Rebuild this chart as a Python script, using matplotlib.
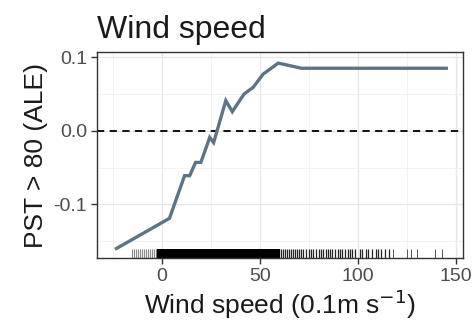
import matplotlib
matplotlib.use("Agg")
import matplotlib.pyplot as plt

plt.rcParams['font.family'] = ['Liberation Sans', 'DejaVu Sans']

# ALE curve
wind = [-23, 4, 11.7, 14.3, 17.3, 20, 24.5, 26.5, 32.7, 36, 42, 46.6, 51.7, 59.4, 71.3, 145]
ale = [-0.160, -0.119, -0.061, -0.061, -0.043, -0.043, -0.009, -0.016, 0.041, 0.026,
       0.050, 0.059, 0.077, 0.092, 0.085, 0.085]

# rug of observed wind speeds
rug_light = [-15, -14, -13, -12, -11, -10, -9, -8, -7, -6, -5, -4, -3]
rug_dense = [-2, -1, 0, 1, 2, 3, 4, 5, 6, 7, 8, 9, 10, 11, 12, 13, 14, 15, 16, 17, 18,
             19, 20, 21, 22, 23, 24, 25, 26, 27, 28, 29, 30, 31, 32, 33, 34, 35, 36, 37,
             38, 39, 40, 41, 42, 43, 44, 45, 46, 47, 48, 49, 50, 51, 52, 53, 54, 55, 56,
             57, 58, 59, 60]
rug_mid = [61, 62, 63, 64, 65, 66, 67, 68, 69, 70, 71, 72, 73.5, 75, 76, 77, 78.5, 80,
           81, 82, 83.5, 85, 86, 87, 88.5, 90, 91, 92, 93.5, 95, 96, 97, 98.5, 101, 102,
           104, 105, 107, 109, 110, 112, 114, 116]
rug_sparse = [118, 125, 127, 130, 139, 143]

fig = plt.figure(figsize=(4.77, 3.36), dpi=100)
ax = fig.add_axes([0.203, 0.232, 0.768, 0.613])

ax.set_xlim(-33, 153.6)
ax.set_ylim(-0.173, 0.107)

ax.set_xticks([0, 50, 100, 150])
ax.set_yticks([-0.1, 0.0, 0.1])
ax.set_yticklabels(['-0.1', '0.0', '0.1'])
ax.set_xticks([-25, 25, 75, 125], minor=True)
ax.set_yticks([-0.15, -0.05, 0.05], minor=True)
ax.grid(True, which='major', color='#e6e6e6', lw=0.9)
ax.grid(True, which='minor', color='#f0f0f0', lw=0.6)
ax.set_axisbelow(True)
ax.tick_params(which='minor', length=0)
ax.tick_params(which='major', length=4, width=1, color='#333333',
               labelsize=14, labelcolor='#4d4d4d', pad=3)
for s in ax.spines.values():
    s.set_color('#333333')
    s.set_linewidth(1)

ax.axhline(0, color='black', ls=(0, (4, 3)), lw=1.3)
ax.plot(wind, ale, color='#5d7487', lw=2.4, solid_joinstyle='miter')

tr = ax.get_xaxis_transform()
ax.vlines(rug_light, 0.0, 0.045, transform=tr, color='#888888', lw=0.8)
ax.vlines(rug_dense, 0.0, 0.045, transform=tr, color='black', lw=1.6)
ax.vlines(rug_mid, 0.0, 0.045, transform=tr, color='#222222', lw=0.9)
ax.vlines(rug_sparse, 0.0, 0.045, transform=tr, color='#555555', lw=0.7)

ax.set_xlabel('Wind speed (0.1m s$^{-1}$)', fontsize=19, color='#1a1a1a', labelpad=2)
ax.set_ylabel('PST > 80 (ALE)', fontsize=19, color='#1a1a1a', labelpad=4)
ax.set_title('Wind speed', fontsize=23, loc='left', pad=10, color='#1a1a1a')

fig.savefig('out.png', dpi=100)
